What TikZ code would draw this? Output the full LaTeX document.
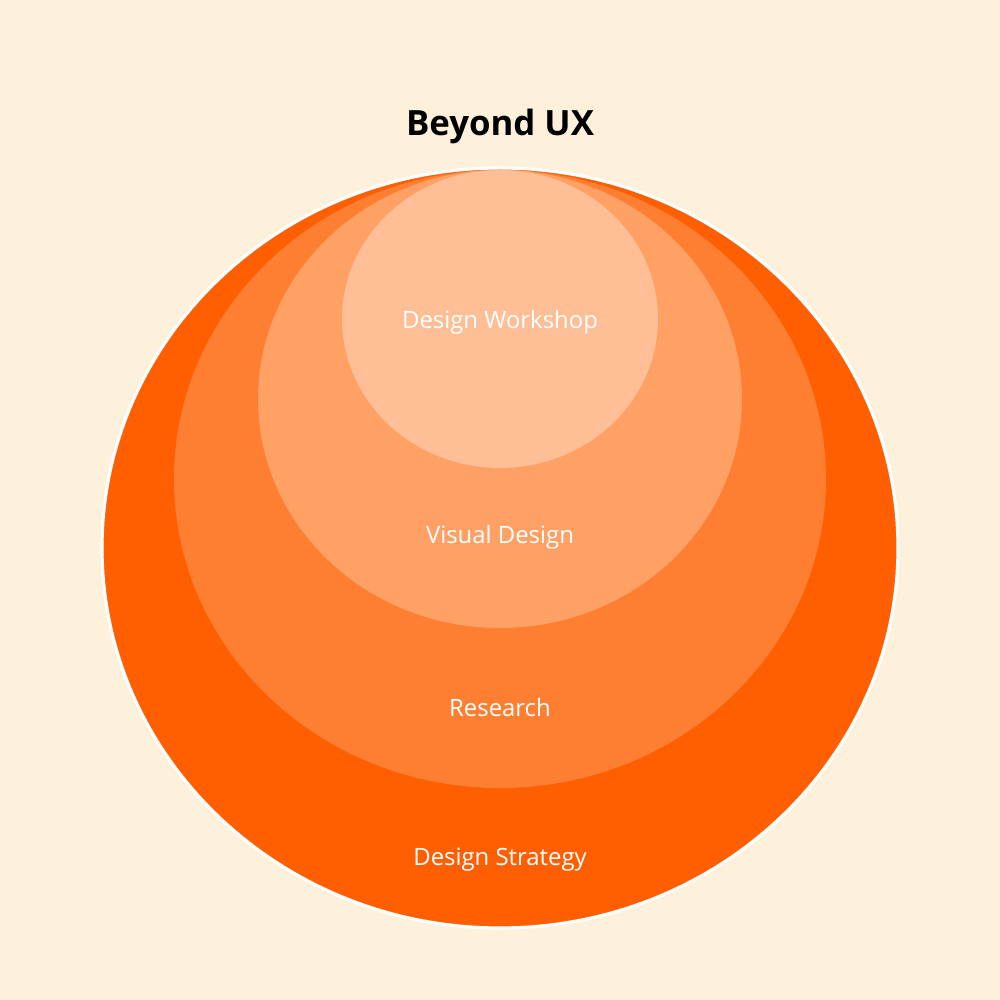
\documentclass[tikz,border=0pt]{standalone}
\usepackage{fontspec}
\setmainfont{Open Sans}
\definecolor{bgcream}{HTML}{FEF1DC}
\definecolor{strategyorange}{HTML}{FF5F00}
\definecolor{researchorange}{HTML}{FE7F32}
\definecolor{visualorange}{HTML}{FFA064}
\definecolor{workshoporange}{HTML}{FFBE96}
\begin{document}
\begin{tikzpicture}[font=\fontsize{13.6}{16}\selectfont,
  label/.style={text=white},
  title/.style={font=\fontsize{19.8}{24}\selectfont\bfseries}]
  % background
  \fill[bgcream] (0,0) rectangle (20,20);
  \useasboundingbox (0,0) rectangle (20,20);

  % nested layers, outermost first
  \fill[strategyorange, draw=white, line width=1.8pt] (10,9.04) ellipse [x radius=7.96cm, y radius=7.6cm];
  \fill[researchorange] (10,10.42) ellipse [x radius=6.52cm, y radius=6.18cm];
  \fill[visualorange] (10,12.02) ellipse [x radius=4.84cm, y radius=4.58cm];
  \fill[workshoporange] (10,13.62) ellipse [x radius=3.16cm, y radius=2.98cm];

  % title
  \node[title] (beyond) at (10,17.48) {Beyond UX};

  % layer labels
  \node[label] (workshop) at (10,13.56) {Design Workshop};
  \node[label] (visual) at (10,9.26) {Visual Design};
  \node[label] (research) at (10,5.84) {Research};
  \node[label] (strategy) at (10,2.8) {Design Strategy};
\end{tikzpicture}
\end{document}
